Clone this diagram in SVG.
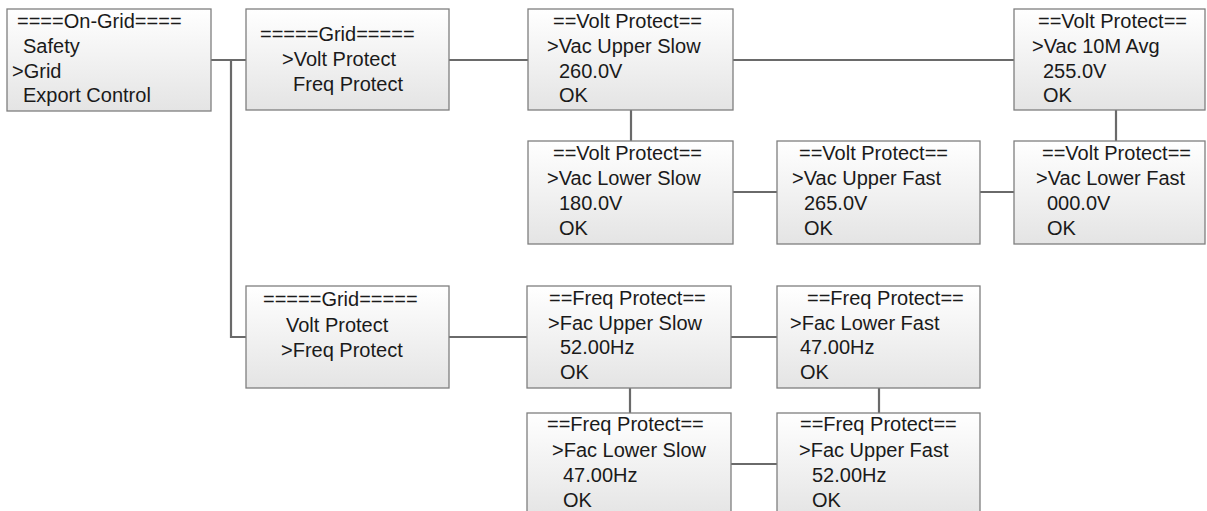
<svg xmlns="http://www.w3.org/2000/svg" width="1207" height="511" viewBox="0 0 1207 511">
<defs>
<linearGradient id="g" x1="0" y1="0" x2="0" y2="1">
<stop offset="0" stop-color="#ffffff"/>
<stop offset="1" stop-color="#e4e4e4"/>
</linearGradient>
</defs>
<style>
.b{fill:url(#g);stroke:#7f7f7f;stroke-width:1.3}
.t{font-family:"Liberation Sans",Arial,sans-serif;font-size:20px;fill:#1a1a1a}
.c{fill:none;stroke:#6a6a6a;stroke-width:2.2}
</style>
<rect width="1207" height="511" fill="#ffffff"/>
<g id="connectors">
<path class="c" d="M211,60 H246"/>
<path class="c" d="M231,60 V337 H246"/>
<path class="c" d="M449,60 H528"/>
<path class="c" d="M733,60 H1014"/>
<path class="c" d="M631,110 V141"/>
<path class="c" d="M733,192 H777"/>
<path class="c" d="M980,192 H1014"/>
<path class="c" d="M1116,110 V141"/>
<path class="c" d="M449,337 H527"/>
<path class="c" d="M731,337 H777"/>
<path class="c" d="M630,388 V413"/>
<path class="c" d="M879,388 V413"/>
<path class="c" d="M731,464 H777"/>
</g>
<g id="onGrid">
<rect class="b" x="7" y="9" width="204" height="102"/>
<text class="t" x="17" y="28">====On-Grid====</text>
<text class="t" x="23" y="53">Safety</text>
<text class="t" x="12" y="78">&gt;Grid</text>
<text class="t" x="23" y="102">Export Control</text>
</g>
<g id="gridVolt">
<rect class="b" x="246" y="9" width="203" height="101"/>
<text class="t" x="260" y="41">=====Grid=====</text>
<text class="t" x="282" y="66">&gt;Volt Protect</text>
<text class="t" x="293" y="91">Freq Protect</text>
</g>
<g id="gridFreq">
<rect class="b" x="246" y="286" width="203" height="102"/>
<text class="t" x="263" y="306">=====Grid=====</text>
<text class="t" x="286" y="332">Volt Protect</text>
<text class="t" x="281" y="357">&gt;Freq Protect</text>
</g>
<g id="vacUpperSlow">
<rect class="b" x="528" y="9" width="205" height="101"/>
<text class="t" x="553" y="28">==Volt Protect==</text>
<text class="t" x="547" y="53">&gt;Vac Upper Slow</text>
<text class="t" x="559" y="78">260.0V</text>
<text class="t" x="559" y="102">OK</text>
</g>
<g id="vacLowerSlow">
<rect class="b" x="528" y="141" width="205" height="103"/>
<text class="t" x="553" y="160">==Volt Protect==</text>
<text class="t" x="547" y="185">&gt;Vac Lower Slow</text>
<text class="t" x="559" y="210">180.0V</text>
<text class="t" x="559" y="235">OK</text>
</g>
<g id="vacUpperFast">
<rect class="b" x="777" y="141" width="203" height="103"/>
<text class="t" x="799" y="160">==Volt Protect==</text>
<text class="t" x="792" y="185">&gt;Vac Upper Fast</text>
<text class="t" x="804" y="210">265.0V</text>
<text class="t" x="804" y="235">OK</text>
</g>
<g id="vac10MAvg">
<rect class="b" x="1014" y="9" width="191" height="101"/>
<text class="t" x="1038" y="28">==Volt Protect==</text>
<text class="t" x="1032" y="53">&gt;Vac 10M Avg</text>
<text class="t" x="1043" y="78">255.0V</text>
<text class="t" x="1043" y="102">OK</text>
</g>
<g id="vacLowerFast">
<rect class="b" x="1014" y="141" width="191" height="103"/>
<text class="t" x="1042" y="160">==Volt Protect==</text>
<text class="t" x="1036" y="185">&gt;Vac Lower Fast</text>
<text class="t" x="1047" y="210">000.0V</text>
<text class="t" x="1047" y="235">OK</text>
</g>
<g id="facUpperSlow">
<rect class="b" x="527" y="286" width="204" height="102"/>
<text class="t" x="549" y="305">==Freq Protect==</text>
<text class="t" x="548" y="330">&gt;Fac Upper Slow</text>
<text class="t" x="560" y="354">52.00Hz</text>
<text class="t" x="560" y="379">OK</text>
</g>
<g id="facLowerFast">
<rect class="b" x="777" y="286" width="203" height="102"/>
<text class="t" x="807" y="305">==Freq Protect==</text>
<text class="t" x="790" y="330">&gt;Fac Lower Fast</text>
<text class="t" x="800" y="354">47.00Hz</text>
<text class="t" x="800" y="379">OK</text>
</g>
<g id="facLowerSlow">
<rect class="b" x="527" y="413" width="204" height="105"/>
<text class="t" x="547" y="431">==Freq Protect==</text>
<text class="t" x="552" y="457">&gt;Fac Lower Slow</text>
<text class="t" x="563" y="482">47.00Hz</text>
<text class="t" x="563" y="507">OK</text>
</g>
<g id="facUpperFast">
<rect class="b" x="777" y="413" width="203" height="105"/>
<text class="t" x="800" y="431">==Freq Protect==</text>
<text class="t" x="799" y="457">&gt;Fac Upper Fast</text>
<text class="t" x="812" y="482">52.00Hz</text>
<text class="t" x="812" y="507">OK</text>
</g>
</svg>
